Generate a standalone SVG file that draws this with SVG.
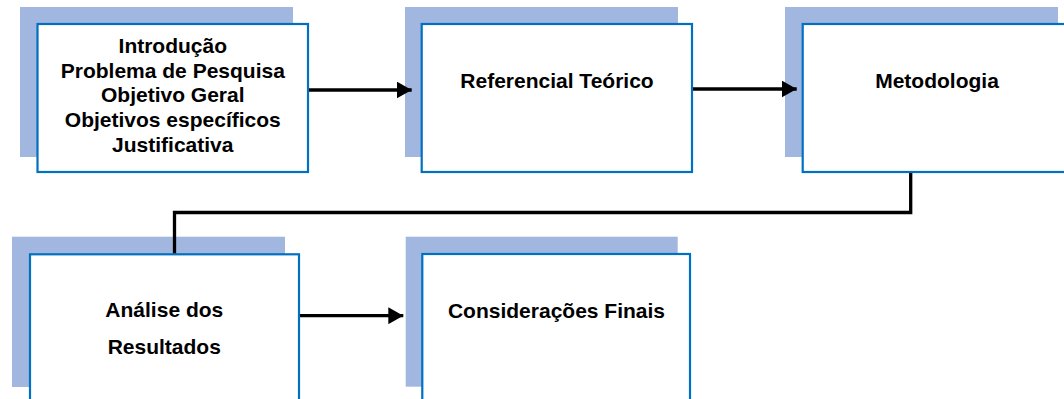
<svg xmlns="http://www.w3.org/2000/svg" width="1064" height="399" viewBox="0 0 1064 399">
  <style>
    .shadow { fill: #A1B7DF; }
    .box { fill: #FFFFFF; stroke: #0070C0; stroke-width: 2.2; }
    .label { font-family: "Liberation Sans", Arial, sans-serif; font-weight: bold; font-size: 21px; fill: #000000; text-anchor: middle; }
    .conn { fill: none; stroke: #000000; stroke-width: 3.3; }
  </style>
  <defs>
    <marker id="arrow" markerUnits="userSpaceOnUse" markerWidth="16" markerHeight="17" refX="15" refY="8.5" orient="auto">
      <path d="M0,0 L15,8.5 L0,17 Z" fill="#000000"/>
    </marker>
  </defs>

  <g id="node-introducao">
    <rect class="shadow" x="20" y="7" width="273" height="150"/>
    <rect class="box" x="37.5" y="24" width="270.5" height="148"/>
    <text class="label" x="172.8" y="53.3">Introdução</text>
    <text class="label" x="172.8" y="78">Problema de Pesquisa</text>
    <text class="label" x="172.8" y="102.2">Objetivo Geral</text>
    <text class="label" x="172.8" y="126.7">Objetivos específicos</text>
    <text class="label" x="172.8" y="151.5">Justificativa</text>
  </g>

  <g id="node-referencial">
    <rect class="shadow" x="405" y="7" width="273" height="150"/>
    <rect class="box" x="421.7" y="24" width="270.3" height="148"/>
    <text class="label" x="557" y="87.5">Referencial Teórico</text>
  </g>

  <g id="node-metodologia">
    <rect class="shadow" x="785" y="7" width="273" height="150"/>
    <rect class="box" x="802.7" y="24" width="268.6" height="148"/>
    <text class="label" x="937" y="88.3">Metodologia</text>
  </g>

  <g id="node-analise">
    <rect class="shadow" x="12" y="236.7" width="273" height="150.3"/>
    <rect class="box" x="30" y="254.3" width="269" height="148"/>
    <text class="label" x="164.3" y="316.7">Análise dos</text>
    <text class="label" x="164.3" y="354">Resultados</text>
  </g>

  <g id="node-consideracoes">
    <rect class="shadow" x="405.7" y="236.7" width="272" height="150"/>
    <rect class="box" x="422.3" y="254" width="267.7" height="148"/>
    <text class="label" x="556.5" y="317.7">Considerações Finais</text>
  </g>

  <g id="connectors">
    <line class="conn" x1="309" y1="90" x2="411.7" y2="90" marker-end="url(#arrow)"/>
    <line class="conn" x1="693" y1="89" x2="796.7" y2="89" marker-end="url(#arrow)"/>
    <polyline class="conn" points="910.7,173 910.7,212.5 174.5,212.5 174.5,253.2" stroke-linejoin="miter"/>
    <line class="conn" x1="300" y1="315.7" x2="403.3" y2="315.7" marker-end="url(#arrow)"/>
  </g>
</svg>
